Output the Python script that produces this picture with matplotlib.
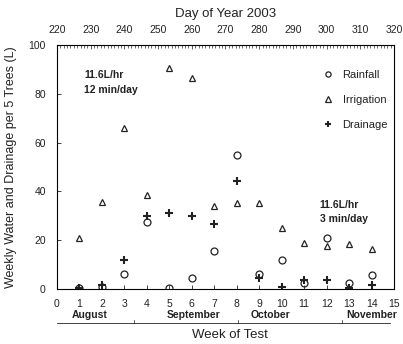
import matplotlib

matplotlib.use("Agg")
import matplotlib.pyplot as plt
from matplotlib.ticker import MultipleLocator

plt.rcParams["font.family"] = ["Liberation Sans", "DejaVu Sans"]

weeks = [1, 2, 3, 4, 5, 6, 7, 8, 9, 10, 11, 12, 13, 14]
rainfall = [0.2, 1.0, 6.0, 27.5, 0.3, 4.5, 15.5, 55.0, 6.2, 12.0, 2.3, 21.0, 2.3, 5.6]
irrigation = [21.0, 35.5, 65.8, 38.5, 90.5, 86.7, 34.0, 35.3, 35.3, 25.0, 18.8, 17.8, 18.5, 16.3]
drainage = [0.5, 1.6, 11.8, 30.0, 31.0, 29.8, 26.5, 44.3, 4.6, 0.8, 3.5, 3.8, 0.5, 1.8]

months = ["August", "September", "October", "November"]
month_centers = [1.45, 6.1, 9.5, 14.0]
month_bounds = [3.43, 8.05, 12.7]

ink = "#222222"

fig = plt.figure(figsize=(4.03, 3.44), dpi=100)
ax = fig.add_axes([0.1414, 0.160, 0.8363, 0.709])

ax.plot(weeks, rainfall, linestyle="", marker="o", ms=5, mfc="none",
        mec=ink, mew=0.9, label="Rainfall")
ax.plot(weeks, irrigation, linestyle="", marker="^", ms=5, mfc="none",
        mec=ink, mew=0.9, label="Irrigation")
ax.plot(weeks, drainage, linestyle="", marker="+", ms=6, mec=ink,
        mew=1.5, label="Drainage")

ax.set_xlim(0, 15)
ax.set_ylim(0, 100)
ax.xaxis.set_major_locator(MultipleLocator(1))
ax.yaxis.set_major_locator(MultipleLocator(20))
ax.tick_params(axis="x", direction="in", length=3, width=0.6, labelsize=7.5,
               pad=7, colors=ink)
ax.tick_params(axis="y", direction="in", length=3, width=0.6, labelsize=7.5,
               pad=8, colors=ink)
for side in ax.spines.values():
    side.set_linewidth(0.7)
    side.set_color(ink)

ax.set_ylabel("Weekly Water and Drainage per 5 Trees (L)", fontsize=9,
              color=ink, labelpad=8)
fig.text(0.571, 1 - 335 / 344, "Week of Test", fontsize=9.5, color=ink,
         ha="center", va="center")

top = ax.twiny()
top.set_xlim(220, 320)
top.xaxis.set_major_locator(MultipleLocator(10))
top.xaxis.set_minor_locator(MultipleLocator(1))
top.tick_params(axis="x", which="major", direction="in", length=3, width=0.5,
                labelsize=7.5, pad=7, colors=ink)
top.tick_params(axis="x", which="minor", direction="in", length=2, width=0.4)
top.set_xlabel("Day of Year 2003", fontsize=9.5, color=ink, labelpad=6)

# month band under the week axis
trans = ax.get_xaxis_transform()
ax.plot([0, 14.8], [-0.139, -0.139], transform=trans, color=ink, lw=0.6,
        clip_on=False)
for b in month_bounds:
    ax.plot([b, b], [-0.139, -0.127], transform=trans, color=ink, lw=0.5,
            clip_on=False)
for name, xc in zip(months, month_centers):
    ax.text(xc, -0.107, name, transform=trans, ha="center", va="center",
            fontsize=7.5, fontweight="bold", color=ink)

ax.text(1.2, 87.6, "11.6L/hr", fontsize=7.5, fontweight="bold", color=ink,
        va="center")
ax.text(1.2, 81.5, "12 min/day", fontsize=7.5, fontweight="bold", color=ink,
        va="center")
ax.text(11.7, 34.4, "11.6L/hr", fontsize=7.5, fontweight="bold", color=ink,
        va="center")
ax.text(11.7, 28.7, "3 min/day", fontsize=7.5, fontweight="bold", color=ink,
        va="center")

leg = ax.legend(loc="upper left", bbox_to_anchor=(0.755, 0.94), frameon=False,
                fontsize=8, labelspacing=1.35, handlelength=1.2,
                handletextpad=0.7, markerscale=0.75)
for text in leg.get_texts():
    text.set_color(ink)

fig.savefig("out.png", dpi=100)
